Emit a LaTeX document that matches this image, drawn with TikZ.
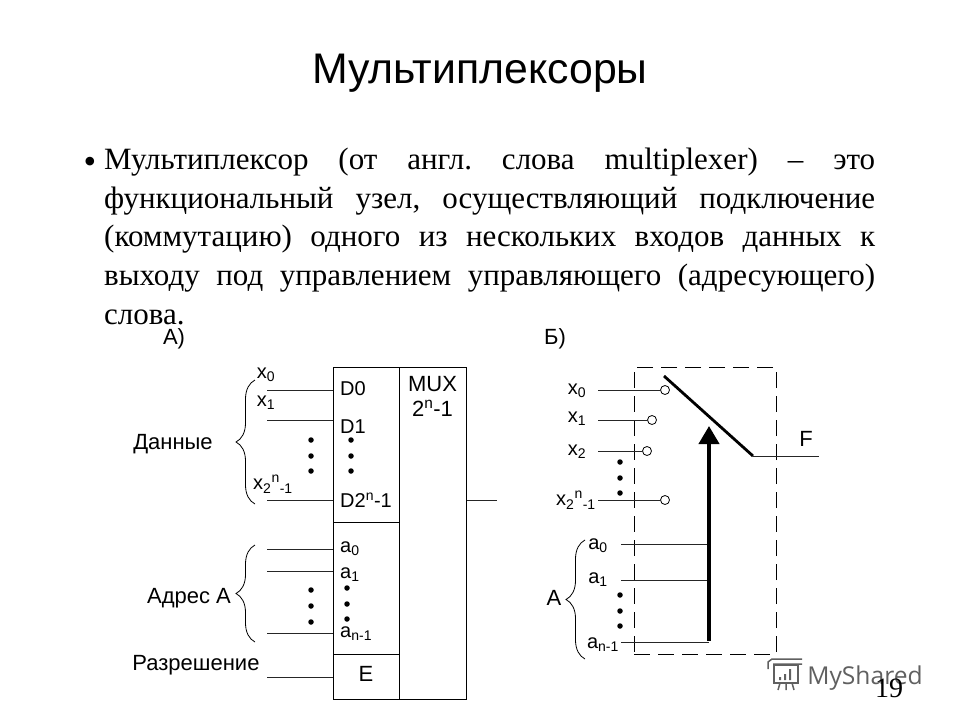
\documentclass[tikz,border=0pt]{standalone}
\usepackage{fontspec}
\setmainfont{Liberation Serif}
\setsansfont{Liberation Sans}
\newfontfamily\logofont{Open Sans}
\usetikzlibrary{arrows.meta,decorations.pathreplacing}
\tikzset{
    cellbox/.style={draw, line width=1pt, inner sep=0pt},
    lbl/.style={font=\sffamily\fontsize{20}{24}\selectfont, inner sep=0pt},
    biglbl/.style={font=\sffamily\fontsize{22}{24}\selectfont, inner sep=0pt},
    wire/.style={line width=0.9pt, black!85},
    dotmark/.style={circle, fill=black, inner sep=0pt, minimum size=5.5pt},
    contact/.style={circle, draw, fill=white, line width=0.8pt, inner sep=0pt, minimum size=9pt},
    groupbrace/.style={line width=0.8pt, decorate, decoration={brace, amplitude=19pt}},
}
\begin{document}
\begin{tikzpicture}[x=1pt, y=-1pt]
        \useasboundingbox (0,0) rectangle (960,720);
        % title and text
        \node[font=\sffamily\fontsize{42.8}{46}\selectfont, inner sep=0pt] (title) at (480,73){Мультиплексоры};
        \node[font=\fontsize{36}{36}\selectfont, inner sep=0pt] (bullet) at (90,165){•};
        \node[font=\frenchspacing\fontsize{31}{38.6}\selectfont, text width=771pt, align=justify, inner sep=0pt, anchor=north west] (body) at (104,148){Мультиплексор (от англ. слова multiplexer) – это\linebreak функциональный узел, осуществляющий подключение\linebreak (коммутацию) одного из нескольких входов данных к\linebreak выходу под управлением управляющего (адресующего)\linebreak слова.};
        % A)
        \node[biglbl] (capa) at (174,339){А)};
        \node[cellbox, minimum width=66pt, minimum height=155pt] (data) at (366,444.5){};
        \node[cellbox, minimum width=66pt, minimum height=132pt] (addr) at (366,588){};
        \node[cellbox, minimum width=66pt, minimum height=45pt] (en) at (366,676.5){};
        \node[cellbox, minimum width=67pt, minimum height=332pt] (mux) at (432.5,533){};
        \node[biglbl, anchor=north, align=center] (muxname) at (432.5,376){MUX\\[1pt]2\textsuperscript{n}-1};
        \coordinate (ix0) at (267,390);
        \coordinate (ix1) at (267,420);
        \coordinate (ixn) at (267,500);
        \coordinate (ia0) at (267,549);
        \coordinate (ia1) at (267,571);
        \coordinate (ian) at (267,633);
        \coordinate (ien) at (267,677);
        \coordinate (muxout) at (497,500);
        \draw[wire] (ix0) -- (ix0 -| data.west);
        \draw[wire] (ix1) -- (ix1 -| data.west);
        \draw[wire] (ixn) -- (ixn -| data.west);
        \draw[wire] (ia0) -- (ia0 -| addr.west);
        \draw[wire] (ia1) -- (ia1 -| addr.west);
        \draw[wire] (ian) -- (ian -| addr.west);
        \draw[wire] (ien) -- (ien -| en.west);
        \draw[wire] (muxout -| mux.east) -- (muxout);
        \node[lbl] (lx0) at (266,375){x\textsubscript{0}};
        \node[lbl] (lx1) at (266,403){x\textsubscript{1}};
        \node[lbl] (lxn) at (273,484){x\textsubscript{2}\textsuperscript{n}\textsubscript{-1}};
        \node[lbl, anchor=west] (ld0) at (340,389){D0};
        \node[lbl, anchor=west] (ld1) at (340,427){D1};
        \node[lbl, anchor=west] (ldn) at (340,500){D2\textsuperscript{n}-1};
        \node[lbl, anchor=west] (la0) at (340,549){a\textsubscript{0}};
        \node[lbl, anchor=west] (la1) at (340,575){a\textsubscript{1}};
        \node[lbl, anchor=west] (lan) at (340,634){a\textsubscript{n-1}};
        \node[biglbl] (le) at (366,674){E};
        \node[biglbl] (ldata) at (173,444){Данные};
        \node[biglbl] (laddr) at (189,598){Адрес А};
        \node[biglbl] (lperm) at (196,665){Разрешение};
        \coordinate (b1t) at (255,380);
        \coordinate (b1b) at (255,504);
        \coordinate (b2t) at (255,545);
        \coordinate (b2b) at (255,642);
        \draw[groupbrace] (b1b) -- (b1t);
        \draw[groupbrace] (b2b) -- (b2t);
        \foreach \y in {440,456,471} {
            \node[dotmark] (dl\y) at (311,\y){};
            \node[dotmark] (dr\y) at (351,\y){};
        }
        \foreach \y in {590,606,622} \node[dotmark] (al\y) at (311,\y){};
        \foreach \y in {588,604,619} \node[dotmark] (ar\y) at (347,\y){};
        % Б)
        \node[biglbl] (capb) at (555,339){Б)};
        \node[draw, dash pattern=on 16pt off 8pt, line width=0.9pt, minimum width=142pt, minimum height=287pt, inner sep=0pt] (frame) at (705,510.5){};
        \node[contact] (c0) at (665,390){};
        \node[contact] (c1) at (652,420){};
        \node[contact] (c2) at (647,451){};
        \node[contact] (c3) at (665,500){};
        \coordinate (sx0) at (598,390);
        \coordinate (sx1) at (598,420);
        \coordinate (sx2) at (598,451);
        \coordinate (sxn) at (598,500);
        \draw[wire] (sx0) -- (c0);
        \draw[wire] (sx1) -- (c1);
        \draw[wire] (sx2) -- (c2);
        \draw[wire] (sxn) -- (c3);
        \coordinate (swa) at (664,376);
        \coordinate (swb) at (753,456);
        \coordinate (fout) at (819,456);
        \draw[line width=2.8pt] (swa) -- (swb);
        \draw[wire] (swb) -- (fout);
        \coordinate (st) at (709,426);
        \coordinate (sb) at (709,642);
        \coordinate (sa0) at (621,544);
        \coordinate (sa1) at (621,580);
        \coordinate (san) at (621,642);
        \draw[wire] (sa0) -- (sa0 -| sb);
        \draw[wire] (sa1) -- (sa1 -| sb);
        \draw[wire] (san) -- (sb);
        \draw[line width=4pt, -{Triangle[length=18pt, width=20pt]}] ([yshift=1pt]sb) -- (st);
        \node[lbl] (rx0) at (577,391){x\textsubscript{0}};
        \node[lbl] (rx1) at (577,419){x\textsubscript{1}};
        \node[lbl] (rx2) at (577,452){x\textsubscript{2}};
        \node[lbl] (rxn) at (576,500){x\textsubscript{2}\textsuperscript{n}\textsubscript{-1}};
        \node[lbl] (ra0) at (598,546){a\textsubscript{0}};
        \node[lbl] (ra1) at (598,580){a\textsubscript{1}};
        \node[lbl] (ran) at (603,645){a\textsubscript{n-1}};
        \node[biglbl] (rf) at (806,439){F};
        \node[biglbl] (ra) at (554,598){А};
        \coordinate (b3t) at (585,540);
        \coordinate (b3b) at (585,659);
        \draw[groupbrace] (b3b) -- (b3t);
        \foreach \y in {462,478,493,595,611,626} \node[dotmark] (rd\y) at (620,\y){};
        % logo and page number
        \begin{scope}[gray!75!black, line width=1.5pt]
            \draw (768,669) -- (768,662) -- (772,659) -- (802,659) (773,664) -- (802,664);
            \draw (774,665) rectangle (798,683);
            \fill (779,677) rectangle (781,680) (784,674) rectangle (786,680) (789,669) rectangle (791,680);
            \draw (780,683) -- (778,690) (786,683) -- (786,690) (792,683) -- (794,690);
        \end{scope}
        \node[font=\logofont\fontsize{24.6}{26}\selectfont, text=gray!75!black, inner sep=0pt] (logo) at (865,678){MyShared};
        \node[font=\fontsize{28}{28}\selectfont, inner sep=0pt] (pagenum) at (889,688){19};
\end{tikzpicture}
\end{document}
